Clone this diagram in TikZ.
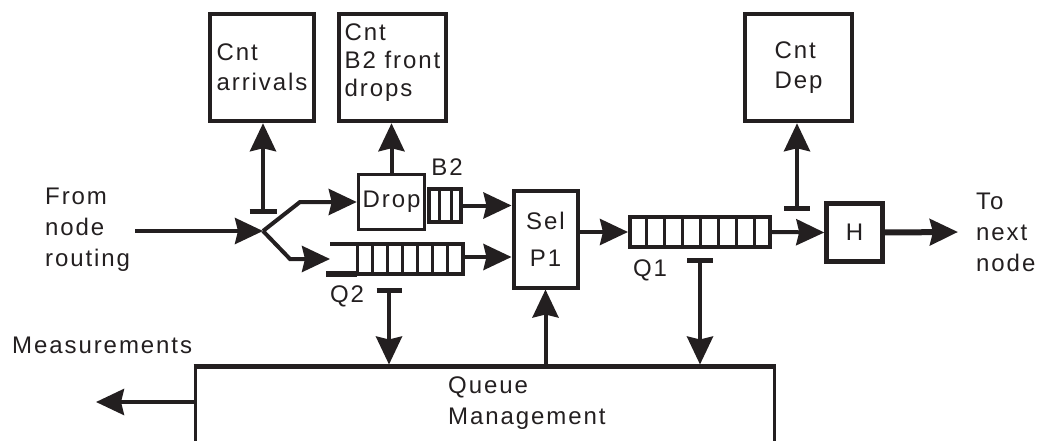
\documentclass[tikz,border=0pt]{standalone}
\usepackage{fontspec}
\setmainfont{Liberation Sans}[LetterSpace=8]
\usetikzlibrary{arrows.meta,calc}
\definecolor{ink}{RGB}{35,31,32}
\begin{document}
\begin{tikzpicture}[x=1pt,y=-1pt,
  box/.style={draw=ink, line width=4.5pt, inner sep=0pt, text=ink, align=left, font=\fontsize{24}{30}\selectfont},
  qbox/.style={draw=ink, line width=4pt, inner sep=0pt},
  cell/.style={draw=ink, line width=3pt},
  arr/.style={draw=ink, line width=4pt, -{Stealth[length=28pt,width=26pt,inset=3pt]}},
  bar/.style={draw=ink, line width=5pt},
  lbl/.style={text=ink, inner sep=0pt, align=left, font=\fontsize{24}{31}\selectfont}]
\useasboundingbox (0,0) rectangle (1044,441);
\clip (0,0) rectangle (1044,441);

% counter boxes
\node[box, minimum width=104pt, minimum height=107pt] (carr) at (262,67.5) {Cnt\\arrivals};
\node[box, minimum width=107pt, minimum height=107pt, text depth=14pt, font=\fontsize{24}{28}\selectfont] (cb2) at (392.5,67.5) {Cnt\\B2 front\\drops};
\node[box, minimum width=107pt, minimum height=107pt] (cdep) at (798.5,67.5) {Cnt\\Dep};

% processing boxes
\node[box, line width=3.5pt, minimum width=66pt, minimum height=55pt] (drop) at (391.5,202) {Drop};
\node[box, line width=4pt, align=center, minimum width=64pt, minimum height=97pt, font=\fontsize{24}{37}\selectfont] (sel) at (545.5,239) {Sel\\P1};
\node[box, minimum width=56pt, minimum height=58pt] (h) at (854.5,232.5) {H};
\node[draw=ink, line width=3.5pt, minimum width=579pt, minimum height=110pt, anchor=north west, inner sep=0pt] (qm) at (193.5,364.5) {};
\draw[ink, line width=5.5pt] ($(qm.north west)+(0,1.75)$) -- ($(qm.north east)+(0,1.75)$);

% queues
\node[qbox, minimum width=32pt, minimum height=33pt] (b2q) at (445,205.5) {};
\foreach \i in {1,2} \draw[cell] ($(b2q.north west)!\i/3!(b2q.north east)$) -- ($(b2q.south west)!\i/3!(b2q.south east)$);
\node[qbox, minimum width=140pt, minimum height=30pt] (q1) at (700,232) {};
\foreach \i in {1,...,7} \draw[cell] ($(q1.north west)!\i/8!(q1.north east)$) -- ($(q1.south west)!\i/8!(q1.south east)$);
\node[inner sep=0pt, outer sep=2pt, minimum width=106pt, minimum height=30pt] (q2) at (410,259) {};
\draw[ink, line width=4pt] (330,244) -- (463,244) -- (463,274) -- (357,274);
\draw[ink, line width=5.5pt] (357,274) -- (326,274);
\foreach \i in {0,...,6} \draw[cell] (357+\i*15.14,244) -- (357+\i*15.14,274);
\coordinate (q2m) at (330,259);

% labels
\node[lbl, anchor=west] (from) at (45,230) {From\\node\\routing};
\node[lbl, anchor=west] (to) at (976,232) {To\\next\\node};
\node[lbl, anchor=base west] (meas) at (12,353) {Measurements};
\node[lbl, anchor=west] (qmt) at (448,403) {Queue\\Management};
\node[lbl] (q1l) at (650,270) {Q1};
\node[lbl] (q2l) at (347,296) {Q2};
\node[lbl] (b2l) at (447,167) {B2};

% input split
\coordinate (src) at (135,231);
\coordinate (split) at (263,231);
\draw[arr] (src) -- (split);
\draw[arr] (split) -- (300,202) -- (drop.west);
\draw[arr] (split) -- (290,259) -- (q2m);

% main flow
\draw[arr] (b2q.east) -- (b2q.east -| sel.west);
\draw[arr] (q2.east |- 0,257) -- (sel.west |- 0,257);
\draw[arr] (sel.east |- q1.west) -- (q1.west);
\draw[arr] (q1.east) -- (h.west);
\coordinate (out) at (958,232);
\draw[arr, line width=6pt] (h.east) -- (out);

% counters
\draw[arr] (drop.north) -- (drop.north |- cb2.south);
\coordinate (tArr) at (263,211);
\draw[bar] ($(tArr)+(-13.5,0)$) -- ($(tArr)+(13.5,0)$);
\draw[arr] (tArr) -- (tArr |- carr.south);
\coordinate (tDep) at (797,208);
\draw[bar] ($(tDep)+(-13,0)$) -- ($(tDep)+(13,0)$);
\draw[arr] (tDep) -- (tDep |- cdep.south);

% queue management links
\coordinate (tQ2) at (389,290);
\draw[bar] ($(tQ2)+(-12.5,0)$) -- ($(tQ2)+(12.5,0)$);
\draw[arr] (tQ2) -- (tQ2 |- qm.north);
\coordinate (tQ1) at (700,260);
\draw[bar] ($(tQ1)+(-13,0)$) -- ($(tQ1)+(13,0)$);
\draw[arr] (tQ1) -- (tQ1 |- qm.north);
\draw[arr] (sel.south |- qm.north) -- (sel.south);
\coordinate (mout) at (96,402);
\draw[arr] (qm.west |- mout) -- (mout);
\end{tikzpicture}
\end{document}
